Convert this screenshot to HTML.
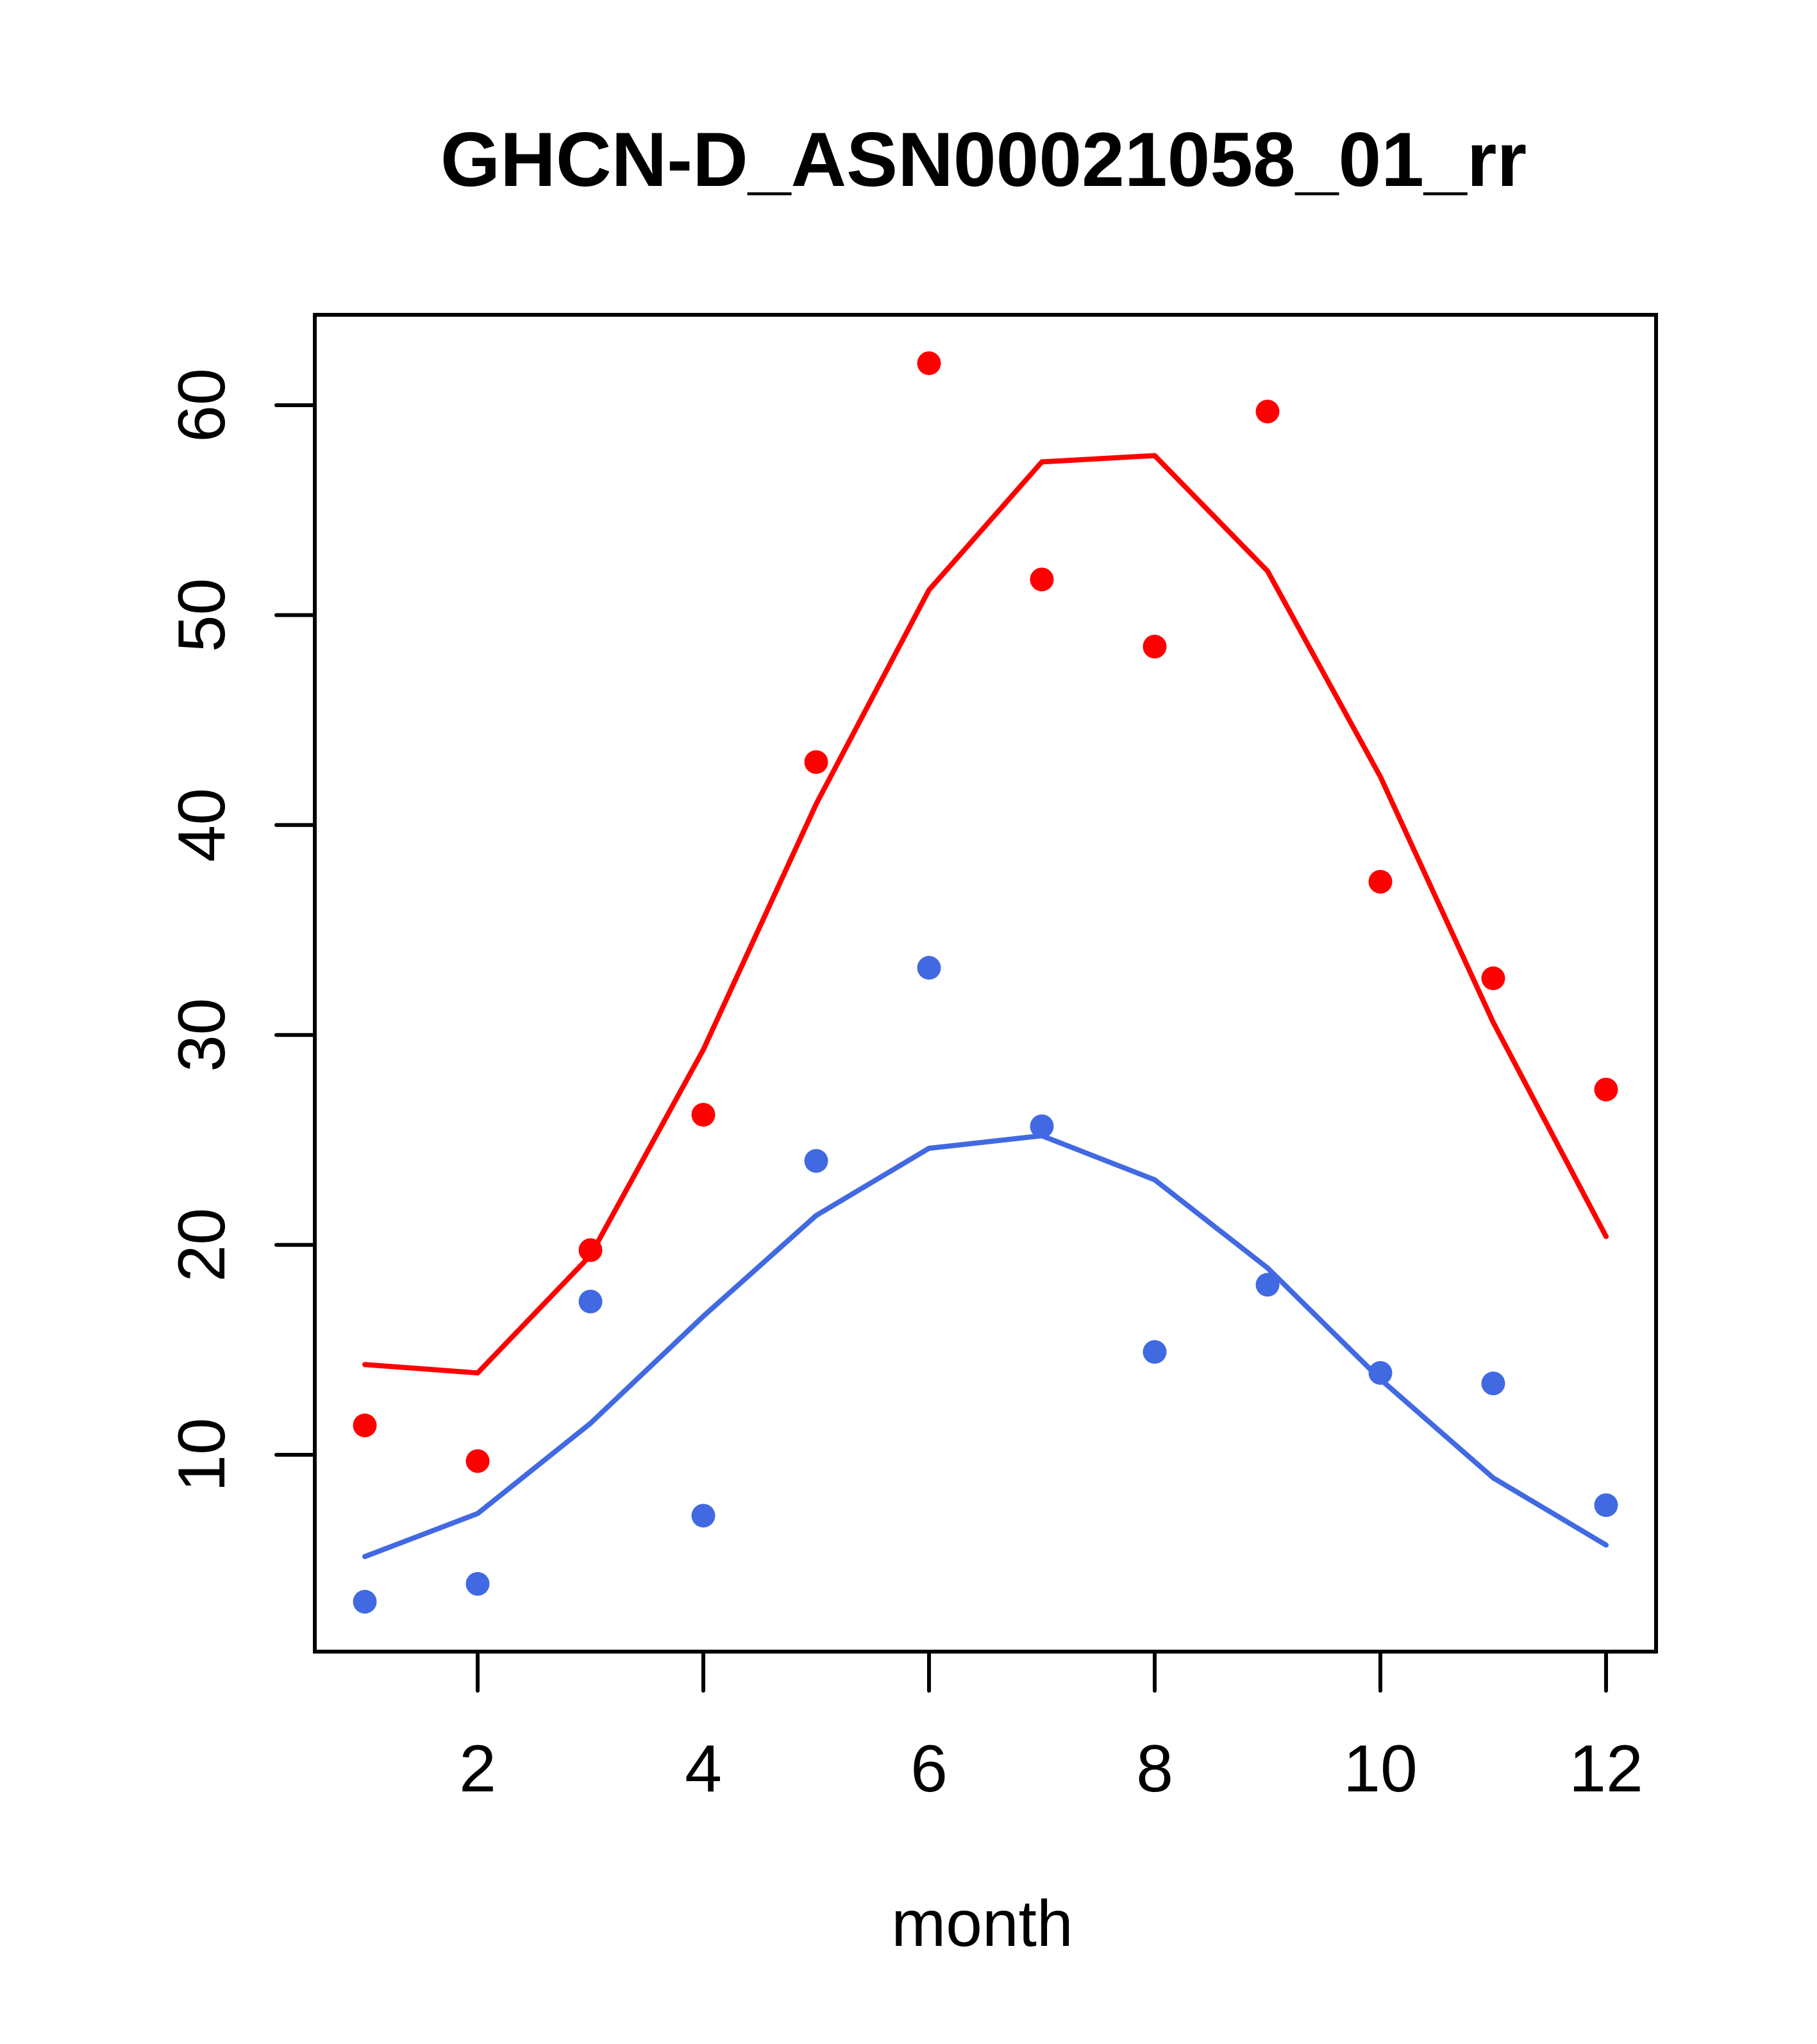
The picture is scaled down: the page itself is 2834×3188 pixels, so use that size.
<!DOCTYPE html>
<html><head><meta charset="utf-8"><style>body{margin:0;background:#fff}svg{display:block}text{font-family:"Liberation Sans",Arial,sans-serif}</style></head>
<body>
<svg id="chart" width="2834" height="3188" viewBox="0 0 2834 3188" xmlns="http://www.w3.org/2000/svg">
<rect width="2834" height="3188" fill="#fff"/>
<text x="1534" y="290" font-size="120" font-weight="bold" text-anchor="middle">GHCN-D_ASN00021058_01_rr</text>
<rect x="491" y="491" width="2092" height="2085" fill="none" stroke="#000" stroke-width="6"/>
<text x="1532" y="3035" font-size="102" text-anchor="middle">month</text>
<g id="axes"></g>
<g id="marks"></g>
</svg>
<script>
const months=[1,2,3,4,5,6,7,8,9,10,11,12];
const redPoints=[11.4,9.7,19.75,26.2,43.0,62.0,51.7,48.5,59.7,37.3,32.7,27.4];
const redLine=[14.3,13.9,19.5,29.3,41.0,51.2,57.3,57.6,52.1,42.3,30.6,20.4];
const bluePoints=[3.0,3.85,17.3,7.1,24.0,33.2,25.65,14.9,18.1,13.9,13.4,7.6];
const blueLine=[5.15,7.2,11.5,16.6,21.4,24.6,25.2,23.1,18.9,13.6,8.9,5.7];
const xTicks=[2,4,6,8,10,12];
const yTicks=[10,20,30,40,50,60];
const NS="http://www.w3.org/2000/svg";
function xs(m){return 745+(m-2)*176;}
function ys(v){return 2269-(v-10)*32.74;}
function mk(t,a,p){const e=document.createElementNS(NS,t);for(const k in a)e.setAttribute(k,a[k]);p.appendChild(e);return e;}
const axes=document.getElementById('axes'),marks=document.getElementById('marks');
xTicks.forEach(t=>{
  const l=mk('line',{x1:xs(t),x2:xs(t),y1:2576,y2:2637,stroke:'#000','stroke-width':6,'stroke-linecap':'round'},axes);
  
  
  const tx=mk('text',{x:xs(t),y:2794,'font-size':104,'text-anchor':'middle'},axes);
  tx.textContent=t;
  
  
});
yTicks.forEach(t=>{
  const l=mk('line',{x1:431,x2:491,y1:ys(t),y2:ys(t),stroke:'#000','stroke-width':6,'stroke-linecap':'round'},axes);
  
  
  const tx=mk('text',{x:0,y:0,'font-size':104,'text-anchor':'middle',transform:`translate(350,${ys(t)}) rotate(-90)`},axes);
  tx.textContent=t;
  
  
});
function drawLine(vals,color,name){
  const p=mk('polyline',{points:vals.map((v,i)=>xs(months[i])+','+ys(v)).join(' '),fill:'none',stroke:color,'stroke-width':8,'stroke-linecap':'round','stroke-linejoin':'round'},marks);
  
  
}
function drawPts(vals,color,name){
  vals.forEach((v,i)=>{
    const c=mk('circle',{cx:xs(months[i]),cy:ys(v),r:18.5,fill:color},marks);
    
    
  });
}
drawLine(redLine,'#ff0000','red-fit-line');
drawLine(blueLine,'#4169e1','blue-fit-line');
drawPts(redPoints,'#ff0000','red-point');
drawPts(bluePoints,'#4169e1','blue-point');
</script>
</body></html>
